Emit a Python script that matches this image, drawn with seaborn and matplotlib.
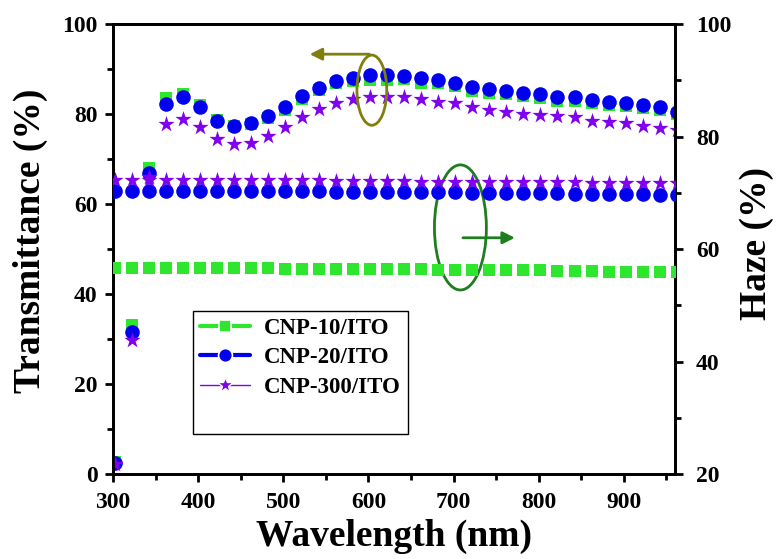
import matplotlib
matplotlib.use("Agg")
import matplotlib.pyplot as plt
import seaborn as sns
import pandas as pd
from matplotlib.patches import Ellipse
from matplotlib.lines import Line2D
from matplotlib.ticker import MultipleLocator

# ---------------- data ----------------
wavelength = [302, 322, 342, 362, 382, 402, 422, 442, 462, 482, 502, 522,
              542, 562, 582, 602, 622, 642, 662, 682, 702, 722, 742, 762,
              782, 802, 822, 842, 862, 882, 902, 922, 942, 962]

series_names = ["CNP-10/ITO", "CNP-20/ITO", "CNP-300/ITO"]

trans_cnp10 = [2.6, 33.1, 68.0, 83.5, 84.4, 82.0, 78.6, 77.3, 77.8, 79.2, 81.0, 83.4,
               85.3, 86.8, 87.3, 87.6, 87.6, 87.7, 87.0, 86.8, 86.2, 85.2, 84.6, 84.4,
               84.0, 83.5, 83.0, 83.0, 82.4, 82.0, 81.8, 81.3, 80.8, 80.0]
trans_cnp20 = [2.4, 31.6, 66.8, 82.2, 83.7, 81.6, 78.4, 77.4, 77.9, 79.6, 81.6, 84.0,
               85.8, 87.3, 88.1, 88.7, 88.6, 88.4, 87.9, 87.6, 87.0, 86.1, 85.5, 85.2,
               84.7, 84.4, 83.8, 83.8, 83.1, 82.7, 82.5, 82.0, 81.5, 80.5]
trans_cnp300 = [2.2, 29.8, 66.0, 77.8, 79.0, 77.2, 74.4, 73.3, 73.6, 75.1, 77.2, 79.4,
                81.1, 82.5, 83.3, 83.8, 83.7, 83.8, 83.3, 82.7, 82.4, 81.6, 80.9, 80.4,
                80.0, 79.8, 79.6, 79.4, 78.5, 78.3, 77.9, 77.3, 77.0, 76.4]

haze_cnp10 = [56.7, 56.7, 56.7, 56.7, 56.6, 56.6, 56.6, 56.6, 56.6, 56.6, 56.5, 56.5,
              56.5, 56.5, 56.5, 56.5, 56.4, 56.4, 56.4, 56.3, 56.3, 56.3, 56.3, 56.2,
              56.2, 56.2, 56.1, 56.1, 56.1, 56.0, 56.0, 56.0, 55.9, 55.9]
haze_cnp20 = [70.4, 70.4, 70.4, 70.4, 70.4, 70.4, 70.4, 70.4, 70.3, 70.3, 70.3, 70.3,
              70.3, 70.2, 70.2, 70.2, 70.2, 70.1, 70.1, 70.1, 70.1, 70.0, 70.0, 70.0,
              69.9, 69.9, 69.9, 69.8, 69.8, 69.8, 69.7, 69.7, 69.6, 69.6]
haze_cnp300 = [72.3, 72.3, 72.3, 72.3, 72.3, 72.3, 72.3, 72.2, 72.2, 72.2, 72.2, 72.2,
               72.2, 72.1, 72.1, 72.1, 72.1, 72.1, 72.0, 72.0, 72.0, 72.0, 72.0, 71.9,
               71.9, 71.9, 71.9, 71.9, 71.8, 71.8, 71.8, 71.8, 71.8, 71.8]

x_ticks = [300, 400, 500, 600, 700, 800, 900]
yl_ticks = [0, 20, 40, 60, 80, 100]
yr_ticks = [20, 40, 60, 80, 100]

# ---------------- style ----------------
GREEN = "#2EE62E"
BLUE = "#0000EE"
PURPLE = "#8000F0"
OLIVE = "#7F7F10"
DKGREEN = "#1E7D1E"

sns.set_theme(style="white")
plt.rcParams["font.family"] = ["Liberation Serif", "DejaVu Serif"]
plt.rcParams["font.weight"] = "bold"
plt.rcParams["axes.labelweight"] = "bold"
plt.rcParams["text.color"] = "black"
plt.rcParams["axes.labelcolor"] = "black"
plt.rcParams["xtick.color"] = "black"
plt.rcParams["ytick.color"] = "black"

fig = plt.figure(figsize=(7.78, 5.59), dpi=100)
ax = fig.add_axes([0.1452, 0.152, 0.7224, 0.805])
ax2 = ax.twinx()

specs = [("s", GREEN, 80), ("o", BLUE, 110), ("*", PURPLE, 150)]
trans = [trans_cnp10, trans_cnp20, trans_cnp300]
haze = [haze_cnp10, haze_cnp20, haze_cnp300]

for (m, c, s), t in zip(specs, trans):
    df = pd.DataFrame({"wl": wavelength, "v": t})
    sns.scatterplot(data=df, x="wl", y="v", marker=m, color=c, s=s,
                    linewidth=0, ax=ax, legend=False, zorder=3)
for (m, c, s), h in zip(specs, haze):
    df = pd.DataFrame({"wl": wavelength, "v": h})
    sns.scatterplot(data=df, x="wl", y="v", marker=m, color=c, s=s,
                    linewidth=0, ax=ax2, legend=False, zorder=3)

ax.set_xlim(300, 960)
ax.set_ylim(0, 100)
ax2.set_ylim(20, 100)

ax.set_xticks(x_ticks)
ax.set_xticklabels([str(v) for v in x_ticks])
ax.xaxis.set_minor_locator(MultipleLocator(50))
ax.set_yticks(yl_ticks)
ax.set_yticklabels([str(v) for v in yl_ticks])
ax.yaxis.set_minor_locator(MultipleLocator(10))
ax2.set_yticks(yr_ticks)
ax2.set_yticklabels([str(v) for v in yr_ticks])
ax2.yaxis.set_minor_locator(MultipleLocator(10))

for a in (ax, ax2):
    for sp in a.spines.values():
        sp.set_linewidth(2.0)
        sp.set_color("black")
    a.grid(False)

ax.tick_params(axis="x", which="major", direction="out", length=6, width=2,
               labelsize=17, colors="black", pad=7, top=False, bottom=True)
ax.tick_params(axis="y", which="major", direction="out", length=6, width=2,
               labelsize=17, colors="black", pad=5, right=False, left=True)
ax.tick_params(axis="both", which="minor", direction="out", length=4, width=2,
               top=False, right=False, left=True, bottom=True)
ax2.tick_params(axis="y", which="major", direction="out", length=6, width=2,
                labelsize=17, colors="black", pad=9, left=False, right=True)
ax2.tick_params(axis="y", which="minor", direction="out", length=4, width=2,
                left=False, right=True)
for lab in ax.get_xticklabels() + ax.get_yticklabels() + ax2.get_yticklabels():
    lab.set_fontweight("bold")

ax.set_xlabel("Wavelength (nm)", fontsize=27, fontweight="bold")
ax.set_ylabel("Transmittance (%)", fontsize=27, fontweight="bold")
ax2.set_ylabel("Haze (%)", fontsize=27, fontweight="bold")
ax.xaxis.set_label_coords(0.5, -0.1)
ax.yaxis.set_label_coords(-0.115, 0.518)
ax2.yaxis.set_label_coords(1.113, 0.513)

# annotations: ellipses + arrows
ax.add_patch(Ellipse((604, 85.3), 35, 15.6, fill=False, edgecolor=OLIVE, lw=2, zorder=4))
ax.annotate("", xy=(531, 93.3), xytext=(601, 93.3),
            arrowprops=dict(arrowstyle="-|>", color=OLIVE, lw=2, mutation_scale=18,
                            shrinkA=0, shrinkB=0), zorder=4)
ax.add_patch(Ellipse((708, 54.8), 61, 27.8, fill=False, edgecolor=DKGREEN, lw=2, zorder=4))
ax.annotate("", xy=(772, 52.5), xytext=(711, 52.5),
            arrowprops=dict(arrowstyle="-|>", color=DKGREEN, lw=2, mutation_scale=18,
                            shrinkA=0, shrinkB=0), zorder=4)

# legend
handles = [
    Line2D([], [], color=GREEN, marker="s", markersize=9, lw=3, markeredgecolor="white", markeredgewidth=1.2),
    Line2D([], [], color=BLUE, marker="o", markersize=10, lw=3, markeredgecolor="white", markeredgewidth=1.2),
    Line2D([], [], color=PURPLE, marker="*", markersize=12, lw=1, markeredgecolor="white", markeredgewidth=1.0),
    Line2D([], [], linestyle="none"),
]
leg = ax.legend(handles, series_names + [" "], loc="upper left",
                bbox_to_anchor=(0.1423, 0.3622), borderaxespad=0,
                prop={"family": "Liberation Serif", "weight": "bold", "size": 16.5},
                frameon=True, fancybox=False, edgecolor="black", framealpha=1,
                handlelength=2.2, handletextpad=0.6, labelspacing=0.36,
                borderpad=0.3)
leg.get_frame().set_linewidth(1.0)
leg.set_zorder(5)

fig.savefig("out.png", dpi=100)
